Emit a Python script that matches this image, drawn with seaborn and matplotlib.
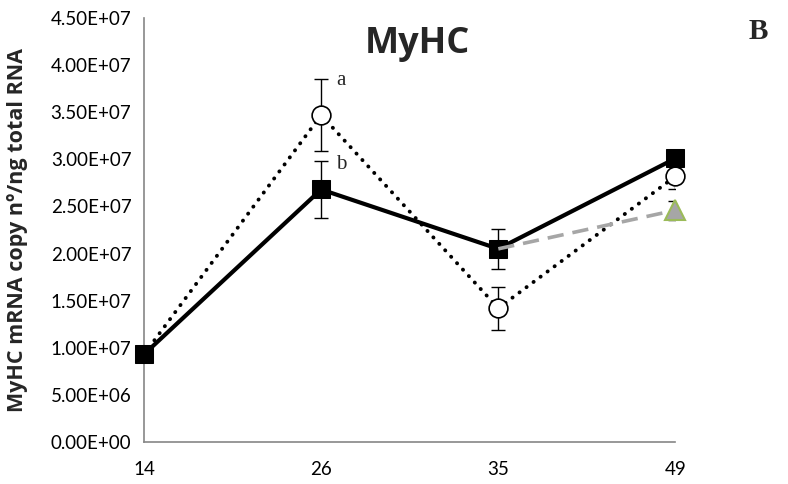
import matplotlib
matplotlib.use("Agg")
import matplotlib.pyplot as plt
import matplotlib.ticker as mticker
import seaborn as sns
import pandas as pd
import numpy as np

# ---- data ----
days = ["14", "26", "35", "49"]
squares = [9.3e6, 2.68e7, 2.05e7, 3.01e7]
squares_err = [0, 3.0e6, 2.1e6, 0]
circles = [9.3e6, 3.47e7, 1.42e7, 2.82e7]
circles_err = [0, 3.8e6, 2.3e6, 1.4e6]
tri_days = ["35", "49"]
triangles = [2.05e7, 2.46e7]
triangles_err = [0, 1.0e6]
letters = ["a", "b"]

sns.set_theme(style="white")
plt.rcParams['font.family'] = ['Lato', 'DejaVu Sans']

fig = plt.figure(figsize=(7.88, 4.84), dpi=100)
ax = fig.add_axes([0.1827, 0.0868, 0.6745, 0.8760])

pos = {d: i for i, d in enumerate(days)}
df_c = pd.DataFrame({"x": [pos[d] for d in days], "y": circles})
df_s = pd.DataFrame({"x": [pos[d] for d in days], "y": squares})
df_t = pd.DataFrame({"x": [pos[d] for d in tri_days], "y": triangles})

# dotted circles
sns.lineplot(data=df_c, x="x", y="y", ax=ax, color="black", linewidth=2.8,
             linestyle=(0, (0.05, 2.2)), dash_capstyle="round", zorder=2)
ax.errorbar(df_c["x"], df_c["y"], yerr=circles_err, fmt="none", ecolor="black",
            elinewidth=1, capsize=5, capthick=1, zorder=2.5)
ax.plot(df_c["x"][1:], df_c["y"][1:], linestyle="none", marker="o", markersize=13.5,
        markerfacecolor="white", markeredgecolor="black", markeredgewidth=1.2, zorder=3,
        clip_on=False)

# solid squares
ax.errorbar(df_s["x"], df_s["y"], yerr=squares_err, fmt="none", ecolor="black",
            elinewidth=1, capsize=5, capthick=1, zorder=3.5)
sns.lineplot(data=df_s, x="x", y="y", ax=ax, color="black", linewidth=3.0,
             marker="s", markersize=13, markeredgecolor="black", zorder=4, clip_on=False)

# gray dashed triangles
ax.errorbar(df_t["x"], df_t["y"], yerr=triangles_err, fmt="none", ecolor="black",
            elinewidth=1, capsize=5, capthick=1, zorder=4.5)
sns.lineplot(data=df_t, x="x", y="y", ax=ax, color="#a6a6a6", linewidth=2.6,
             linestyle=(0, (4.5, 2.5)), zorder=5)
ax.plot(df_t["x"][1:], df_t["y"][1:], linestyle="none", marker="^", markersize=15,
        markerfacecolor="#a6a6a6", markeredgecolor="#9bbb59", markeredgewidth=1.5, zorder=6,
        clip_on=False)

# letters
ax.text(pos["26"] + 0.085, circles[1] + circles_err[1] - 0.1e6, letters[0],
        family="Liberation Serif", fontsize=15, ha="left", va="center")
ax.text(pos["26"] + 0.085, squares[1] + squares_err[1] - 0.35e6, letters[1],
        family="Liberation Serif", fontsize=15, ha="left", va="center")

ax.set_xlim(0, 3)
ax.set_ylim(0, 4.5e7)
ax.set_xticks(range(len(days)))
ax.set_xticklabels(days)
ax.yaxis.set_major_locator(mticker.MultipleLocator(5e6))
ax.yaxis.set_major_formatter(mticker.FuncFormatter(lambda v, p: f"{v:.2E}"))
ax.tick_params(axis="both", labelsize=13.5, colors="#000000", direction="out",
               length=5, width=1, color="#868686", pad=4)
ax.tick_params(axis="x", pad=9)
for s in ["top", "right"]:
    ax.spines[s].set_visible(False)
for s in ["left", "bottom"]:
    ax.spines[s].set_color("#868686")
    ax.spines[s].set_linewidth(1.2)
ax.set_xlabel("")
ax.set_ylabel("MyHC mRNA copy nº/ng total RNA", fontsize=15.5, fontweight="bold",
              family=["Open Sans", "DejaVu Sans"])
ax.yaxis.set_label_coords(-0.218, 0.5)

fig.text(0.53, 0.91, "MyHC", fontsize=26, fontweight="bold", ha="center", va="center",
         family=["Open Sans", "DejaVu Sans"])
fig.text(0.962, 0.935, "B", family="Liberation Serif", fontsize=21, fontweight="bold",
         ha="center", va="center")

fig.savefig("out.png", dpi=100)
